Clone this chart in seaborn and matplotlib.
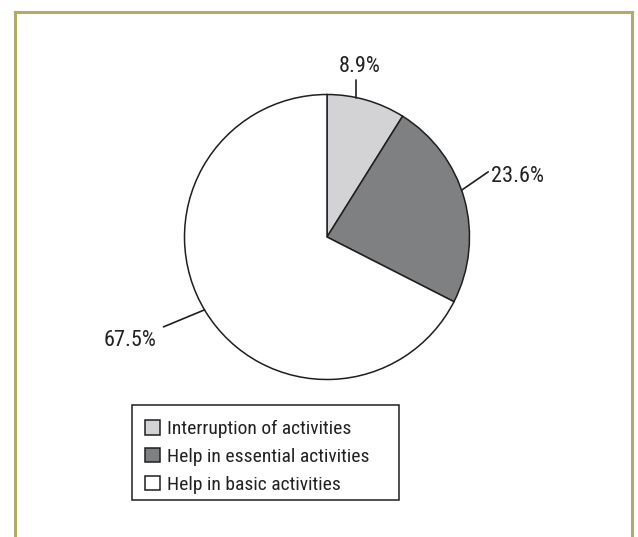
"""
Pie chart of activity limitation categories with leader-line labels.
"""
import numpy as np
import matplotlib
matplotlib.use("Agg")
import matplotlib.pyplot as plt
import seaborn as sns
from matplotlib.patches import Rectangle

# Data
categories = ["Interruption of activities", "Help in essential activities", "Help in basic activities"]
shares = [8.9, 23.6, 67.5]
label_texts = ["8.9%", "23.6%", "67.5%"]
colors = ["#d3d3d5", "#7f8081", "#ffffff"]


def main():
    sns.set_style("white")
    plt.rcParams["font.family"] = ["Roboto Condensed", "Archivo Narrow", "Liberation Sans", "DejaVu Sans"]

    W, H = 638, 537
    fig = plt.figure(figsize=(W / 100, H / 100), dpi=100)

    # olive frame, open at the bottom
    fig.patches.append(Rectangle((15 / W, -0.05), (632 - 15) / W, 1.05 - 12 / H,
                                 transform=fig.transFigure, fill=False,
                                 edgecolor="#b2aa66", linewidth=2.2))

    r_px = 142.5
    cx, cy = 327, H - 237
    ax = fig.add_axes([(cx - r_px) / W, (cy - r_px) / H, 2 * r_px / W, 2 * r_px / H])

    wedges, _ = ax.pie(shares, colors=colors, startangle=90, counterclock=False,
                       radius=1, wedgeprops=dict(edgecolor="#1f1f1f", linewidth=1.1))
    ax.set_xlim(-1, 1)
    ax.set_ylim(-1, 1)
    ax.set_aspect("equal")
    ax.axis("off")

    # leader line settings, all in pixels: angle shift from wedge middle,
    # line vector, text offset from line end
    ang_shift = [4.1, 3.7, -0.75]
    leader = [(0, 17.5), (26.6, 18.3), (-41, -17)]
    text_off = [(3.5, 8, "center"), (2.4, -10.3, "left"), (-7, -19.4, "right")]
    for w, lab, sh, (lx, ly), (tx, ty, ha) in zip(wedges, label_texts, ang_shift, leader, text_off):
        ang = np.deg2rad((w.theta1 + w.theta2) / 2 + sh)
        x0, y0 = np.cos(ang), np.sin(ang)
        x1, y1 = x0 + lx / r_px, y0 + ly / r_px
        ax.plot([x0, x1], [y0, y1], color="#1f1f1f", linewidth=1.2, clip_on=False)
        ax.text(x1 + tx / r_px, y1 + ty / r_px, lab, ha=ha, va="baseline",
                fontsize=16, color="#222222")

    # legend box drawn separately so the padding matches
    fig.patches.append(Rectangle((131.7 / W, (H - 500) / H), (399 - 131.7) / W, (500 - 405) / H,
                                 transform=fig.transFigure, fill=False,
                                 edgecolor="#1f1f1f", linewidth=1.1))
    leg = fig.legend(wedges, categories, loc="upper left",
                     bbox_to_anchor=(145 / W, 1 - 420 / H), fontsize=14,
                     frameon=False, handlelength=0.77, handleheight=0.77,
                     handletextpad=0.36, labelspacing=0.5, borderpad=0,
                     borderaxespad=0)
    for t in leg.get_texts():
        t.set_color("#222222")

    fig.savefig("out.png", dpi=100)
    plt.close(fig)


if __name__ == "__main__":
    main()
